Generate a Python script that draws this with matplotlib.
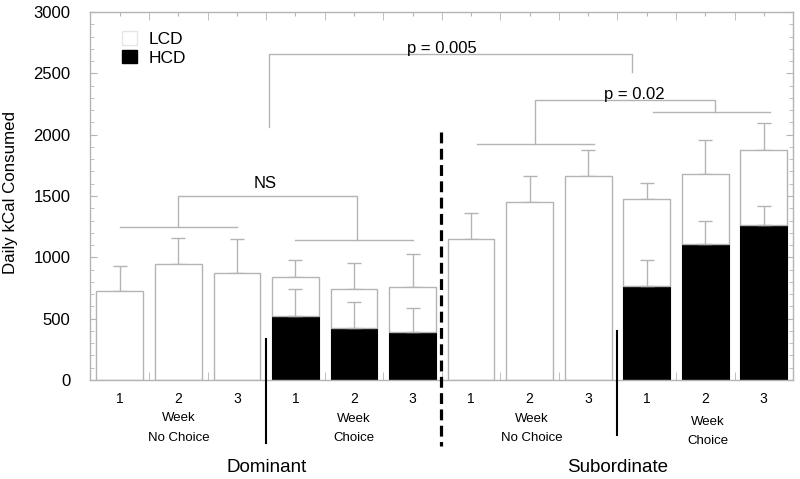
import matplotlib.pyplot as plt
from matplotlib.patches import Patch
from matplotlib.transforms import blended_transform_factory
import numpy as np

plt.rcParams['font.family'] = ['Liberation Sans', 'DejaVu Sans']

# values (kcal per day), 12 bars:
# Dominant no choice wk1-3, Dominant choice wk1-3, Subordinate no choice wk1-3, Subordinate choice wk1-3
hcd = [0, 0, 0, 520, 420, 395, 0, 0, 0, 763, 1109, 1267]
lcd = [728, 946, 872, 317, 321, 360, 1150, 1450, 1665, 711, 573, 608]
total_sem = [204, 213, 278, 142, 216, 273, 210, 212, 210, 134, 275, 216]
hcd_sem = [0, 0, 0, 218, 212, 191, 0, 0, 0, 216, 185, 150]
week_labels = ['1', '2', '3'] * 4
group_labels = [('Week', 'No Choice'), ('Week', 'Choice'), ('Week', 'No Choice'), ('Week', 'Choice')]
rank_labels = ['Dominant', 'Subordinate']

gray = '#b4b4b4'
x = np.arange(len(lcd))
hcd = np.array(hcd)
lcd = np.array(lcd)
total = hcd + lcd

fig = plt.figure(figsize=(8, 4.79), dpi=100)
ax = fig.add_axes([0.1125, 0.2067, 0.8788, 0.7683])

ax.bar(x, hcd, width=0.8, color='black', edgecolor='black', linewidth=0.8, zorder=2)
ax.bar(x, lcd, width=0.8, bottom=hcd, color='white', edgecolor=gray, linewidth=1.0, zorder=2)

ax.errorbar(x, total, yerr=[np.zeros(len(x)), total_sem], fmt='none', ecolor=gray,
            elinewidth=1.0, capsize=5, capthick=1.0, zorder=1)
has_hcd = hcd > 0
ax.errorbar(x[has_hcd], hcd[has_hcd], yerr=[np.zeros(has_hcd.sum()), np.array(hcd_sem)[has_hcd]],
            fmt='none', ecolor=gray, elinewidth=1.0, capsize=5, capthick=1.0, zorder=3)

ax.set_xlim(-0.51, 11.48)
ax.set_ylim(0, 3000)
ax.set_yticks(np.arange(0, 3001, 500))
ax.set_yticks(np.arange(0, 3001, 100), minor=True)
ax.set_xticks(x)
ax.set_xticklabels(week_labels)
ax.set_xticks(x + 0.5, minor=True)
ax.tick_params(axis='both', which='both', direction='in', color=gray, top=True, right=True)
ax.tick_params(axis='y', which='major', length=5, labelsize=12, pad=14)
ax.tick_params(axis='y', which='minor', length=3)
ax.tick_params(axis='x', which='major', length=3, labelsize=10, pad=9)
ax.tick_params(axis='x', which='minor', length=6)
for s in ax.spines.values():
    s.set_color(gray)
    s.set_linewidth(1.0)
ax.set_ylabel('Daily kCal Consumed', fontsize=12.2)
ax.yaxis.set_label_coords(-0.103, 0.51)


def bracket(x0, x1, y, y0, y1, color=gray):
    # horizontal line with legs down to y0 (left) and y1 (right)
    ax.plot([x0, x0, x1, x1], [y0, y, y, y1], color=color, lw=1.0, zorder=1)


def hline(x0, x1, y):
    ax.plot([x0, x1], [y, y], color=gray, lw=1.0, zorder=1)


# significance lines
hline(0, 2, 1251)
hline(3, 5, 1142)
bracket(1, 4.05, 1496, 1251, 1142)
ax.text(2.48, 1603, 'NS', ha='center', va='center', fontsize=12)

hline(6.1, 8.1, 1927)
hline(9.1, 11.1, 2186)
bracket(7.1, 10.17, 2281, 1927, 2186)
ax.text(8.79, 2290, 'p = 0.02', ha='center', va='baseline', fontsize=12)

bracket(2.54, 8.75, 2657, 2063, 2513)
ax.text(5.5, 2665, 'p = 0.005', ha='center', va='baseline', fontsize=12)

# separators
ax.plot([5.49, 5.49], [2022, -540], color='black', lw=2.3, ls=(0, (3.4, 1.7)), clip_on=False, zorder=4)
ax.plot([2.50, 2.50], [335, -510], color='black', lw=1.5, clip_on=False, zorder=4)
ax.plot([8.5, 8.5], [400, -445], color='black', lw=1.5, clip_on=False, zorder=4)

trans = blended_transform_factory(ax.transData, fig.transFigure)
week_y = [61 / 479, 60 / 479, 60 / 479, 57 / 479]
sub_y = [41 / 479, 41 / 479, 41 / 479, 38 / 479]
week_x = [1, 4, 7.03, 10.04]
for i, (w, sub) in enumerate(group_labels):
    ax.text(week_x[i], week_y[i], w, transform=trans, ha='center', va='center', fontsize=9.5)
    ax.text(week_x[i], sub_y[i], sub, transform=trans, ha='center', va='center', fontsize=9.5)
for i, r in enumerate(rank_labels):
    ax.text(6 * i + 2.5, 12 / 479, r, transform=trans, ha='center', va='center', fontsize=13.5)

handles = [Patch(facecolor='white', edgecolor='#e6e6e6', label='LCD'),
           Patch(facecolor='black', edgecolor='black', label='HCD')]
ax.legend(handles=handles, loc='upper left', bbox_to_anchor=(0.046, 0.948), frameon=False,
          fontsize=12.5, handlelength=0.85, handleheight=0.85, handletextpad=0.65,
          labelspacing=0.15, borderaxespad=0, borderpad=0)

fig.savefig('out.png', dpi=100)
